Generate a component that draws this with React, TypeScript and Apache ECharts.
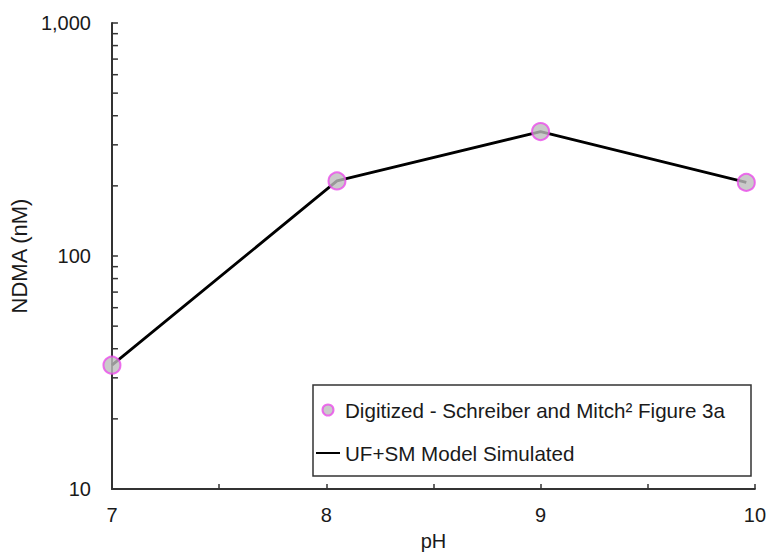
import React, { useEffect, useRef } from "react";
import * as echarts from "echarts";

const digitizedPH = [7, 8.05, 9, 9.96];
const digitizedNDMA = [34, 210, 342, 207];
const modelPH = [7, 8.05, 9, 9.96];
const modelNDMA = [34, 210, 342, 207];
const minorTickValues = [20, 30, 40, 50, 60, 70, 80, 90, 200, 300, 400, 500, 600, 700, 800, 900];
const seriesNames = ["Digitized - Schreiber and Mitch\u00b2 Figure 3a", "UF+SM Model Simulated"];
const xTicks = [7, 8, 9, 10];

const FONT = "'Liberation Sans', Arial, sans-serif";
const TEXT = "#1a1a1a";
const AXIS = "#333";

export default function App() {
  const ref = useRef<HTMLDivElement>(null);
  useEffect(() => {
    const chart = echarts.init(ref.current!, null, { renderer: "svg" });
    chart.setOption({
      animation: false,
      backgroundColor: "#fff",
      textStyle: { fontFamily: FONT },
      grid: { left: 110, right: 12, top: 23, bottom: 65, containLabel: false },
      xAxis: {
        type: "value",
        min: 7,
        max: 10,
        interval: 0.5,
        name: "pH",
        nameLocation: "middle",
        nameGap: 42,
        nameTextStyle: { fontSize: 20, color: TEXT, fontFamily: FONT },
        axisLine: { lineStyle: { color: AXIS, width: 2 } },
        axisTick: { inside: true, length: 5, lineStyle: { color: AXIS, width: 1.5 } },
        axisLabel: {
          fontSize: 20,
          color: TEXT,
          margin: 16,
          fontFamily: FONT,
          formatter: (v: number) => (xTicks.includes(v) ? String(v) : ""),
        },
        splitLine: { show: false },
      },
      yAxis: {
        type: "log",
        logBase: 10,
        min: 10,
        max: 1000,
        name: "NDMA (nM)",
        nameLocation: "middle",
        nameRotate: 90,
        nameGap: 77,
        nameTextStyle: { fontSize: 22, color: TEXT, fontFamily: FONT },
        axisLine: { show: true, lineStyle: { color: AXIS, width: 2 } },
        axisTick: { show: true, inside: true, length: 6, lineStyle: { color: AXIS, width: 1.5 } },
        axisLabel: {
          fontSize: 20,
          color: TEXT,
          margin: 21,
          fontFamily: FONT,
          formatter: (v: number) => v.toLocaleString("en-US"),
        },
        splitLine: { show: false },
      },
      legend: {
        orient: "vertical",
        left: 316,
        top: 399,
        padding: 0,
        itemWidth: 24,
        itemHeight: 11,
        itemGap: 21,
        textStyle: { fontSize: 20.6, color: TEXT, fontFamily: FONT, lineHeight: 22 },
        data: [
          { name: seriesNames[0] },
          { name: seriesNames[1], icon: "path://M0,0 L24,0 L24,2 L0,2 Z", itemStyle: { color: "#000" } },
        ],
        selectedMode: false,
      },
      graphic: [
        {
          type: "rect",
          shape: { x: 313, y: 385, width: 438, height: 91 },
          style: { fill: "none", stroke: AXIS, lineWidth: 1.5 },
          z: 0,
        },
      ],
      series: [
        {
          name: seriesNames[1],
          type: "line",
          color: "#000",
          data: modelPH.map((x, i) => [x, modelNDMA[i]]),
          symbol: "none",
          itemStyle: { color: "#000" },
          lineStyle: { color: "#000", width: 2.8 },
          z: 2,
        },
        {
          name: seriesNames[0],
          type: "scatter",
          data: digitizedPH.map((x, i) => [x, digitizedNDMA[i]]),
          symbol: "circle",
          symbolSize: 17,
          itemStyle: { color: "#bdbdbd", borderColor: "#ea4cea", borderWidth: 2 },
          z: 3,
        },
        {
          type: "custom",
          silent: true,
          clip: false,
          data: minorTickValues.map((v) => [7, v]),
          renderItem: (params: any, api: any) => {
            const p = api.coord([api.value(0), api.value(1)]);
            return {
              type: "line",
              shape: { x1: p[0], y1: p[1], x2: p[0] + 6, y2: p[1] },
              style: { stroke: AXIS, lineWidth: 1.5 },
            };
          },
          z: 1,
        },
      ],
    });
    return () => chart.dispose();
  }, []);
  return <div ref={ref} style={{ position: "absolute", left: 0, top: 0, width: 769, height: 556 }} />;
}
